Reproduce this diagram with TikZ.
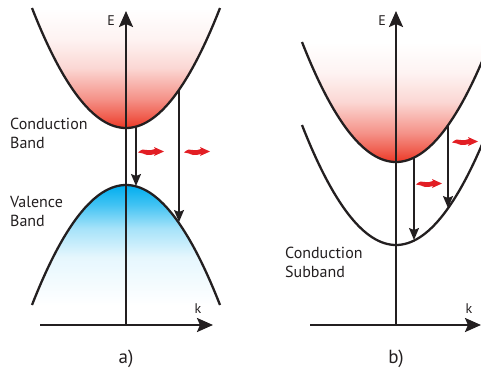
\documentclass[tikz,border=0pt]{standalone}
\usepackage{fontspec}
\setmainfont{PT Sans}
\usetikzlibrary{arrows.meta}
\definecolor{ink}{RGB}{35,31,32}
\definecolor{cbred}{RGB}{236,56,38}
\definecolor{vbcyan}{RGB}{0,174,239}
\definecolor{phred}{RGB}{226,30,36}
\pgfdeclareverticalshading{cbshade}{100bp}{color(0bp)=(cbred); color(25bp)=(cbred); color(30bp)=(cbred!80!white); color(37bp)=(cbred!55!white); color(50bp)=(cbred!20!white); color(62bp)=(cbred!6!white); color(75bp)=(white); color(100bp)=(white)}
\pgfdeclareverticalshading{vbshade}{100bp}{color(0bp)=(white); color(25bp)=(white); color(45bp)=(vbcyan!10!white); color(57bp)=(vbcyan!35!white); color(67bp)=(vbcyan!75!white); color(75bp)=(vbcyan); color(100bp)=(vbcyan)}
\begin{document}
\begin{tikzpicture}[x=1pt,y=-1pt,line join=round,
  curve/.style={ink,line width=2.3pt},
  axis/.style={ink,line width=2.4pt,-{Stealth[length=16pt,width=14pt,inset=3pt]}},
  trans/.style={ink,line width=1.3pt,-{Stealth[length=12pt,width=10pt,inset=2pt]}},
  lbl/.style={font=\fontsize{16}{18.5}\selectfont,text=ink,inner sep=0pt,align=left,anchor=base west},
  axlbl/.style={font=\fontsize{14}{15}\selectfont,text=ink,inner sep=0pt,anchor=base},
  caplbl/.style={font=\fontsize{19}{22}\selectfont,text=ink,inner sep=0pt,anchor=base},
  photon/.pic={\fill[phred] (-13,0.5) .. controls (-10,-2.5) and (-7,-3.5) .. (-4,-2) .. controls (-1,-0.5) and (1,-3) .. (4,-3) -- (3,-5) -- (13,-0.5) -- (3,4) -- (4,2) .. controls (1,2) and (-1,4) .. (-4,3) .. controls (-7,2) and (-10,0.5) .. (-13,0.5) -- cycle;}
]
\clip (0,0) rectangle (481,370);
% ---------- panel a ----------
\begin{scope}
  \clip (32,8) .. controls (94.67,168) and (157.33,168) .. (220,8) -- cycle;
  \shade[shading=cbshade] (30,8) rectangle (222,128);
\end{scope}
\begin{scope}
  \clip (32,305) .. controls (94.67,145) and (157.33,145) .. (220,305) -- cycle;
  \shade[shading=vbshade] (30,185) rectangle (222,305);
\end{scope}
\draw[curve] (32,8) .. controls (94.67,168) and (157.33,168) .. (220,8);
\draw[curve] (32,305) .. controls (94.67,145) and (157.33,145) .. (220,305);
\coordinate (aO) at (126,325);
\coordinate (aE) at (126,11);
\coordinate (aL) at (40,325);
\coordinate (aK) at (213,325);
\draw[axis] (aO) -- (aE);
\draw[axis] (aL) -- (aK);
\coordinate (a1t) at (136,126.6);
\coordinate (a1b) at (136,186);
\coordinate (a2t) at (179,90);
\coordinate (a2b) at (179,222);
\draw[trans] (a1t) -- (a1b);
\draw[trans] (a2t) -- (a2b);
\pic at (151,152) {photon};
\pic at (197,152) {photon};
\node[axlbl] (Ea) at (111,25.5) {E};
\node[axlbl] (ka) at (198,313) {k};
\node[lbl] (cband) at (10,148) {Conduction\\Band};
\node[lbl] (vband) at (10,226) {Valence\\Band};
\node[caplbl] (capa) at (126,363) {a)};
% ---------- panel b ----------
\begin{scope}
  \clip (302,42) .. controls (364.67,202) and (427.33,202) .. (490,42) -- cycle;
  \shade[shading=cbshade] (300,42) rectangle (492,162);
\end{scope}
\draw[curve] (302,42) .. controls (364.67,202) and (427.33,202) .. (490,42);
\draw[curve] (302,125) .. controls (364.67,285) and (427.33,285) .. (490,125);
\coordinate (bO) at (396,325);
\coordinate (bE) at (396,11);
\coordinate (bL) at (310,325);
\coordinate (bK) at (481,325);
\draw[axis] (bO) -- (bE);
\draw[axis] (bL) -- (bK);
\coordinate (b1t) at (414,157.6);
\coordinate (b1b) at (414,240);
\coordinate (b2t) at (448,125.3);
\coordinate (b2b) at (448,208);
\draw[trans] (b1t) -- (b1b);
\draw[trans] (b2t) -- (b2b);
\pic at (429,184) {photon};
\pic at (465,142) {photon};
\node[axlbl] (Eb) at (382,25.5) {E};
\node[axlbl] (kb) at (469,313) {k};
\node[lbl] (csub) at (285,277) {Conduction\\Subband};
\node[caplbl] (capb) at (396,363) {b)};
\end{tikzpicture}
\end{document}
